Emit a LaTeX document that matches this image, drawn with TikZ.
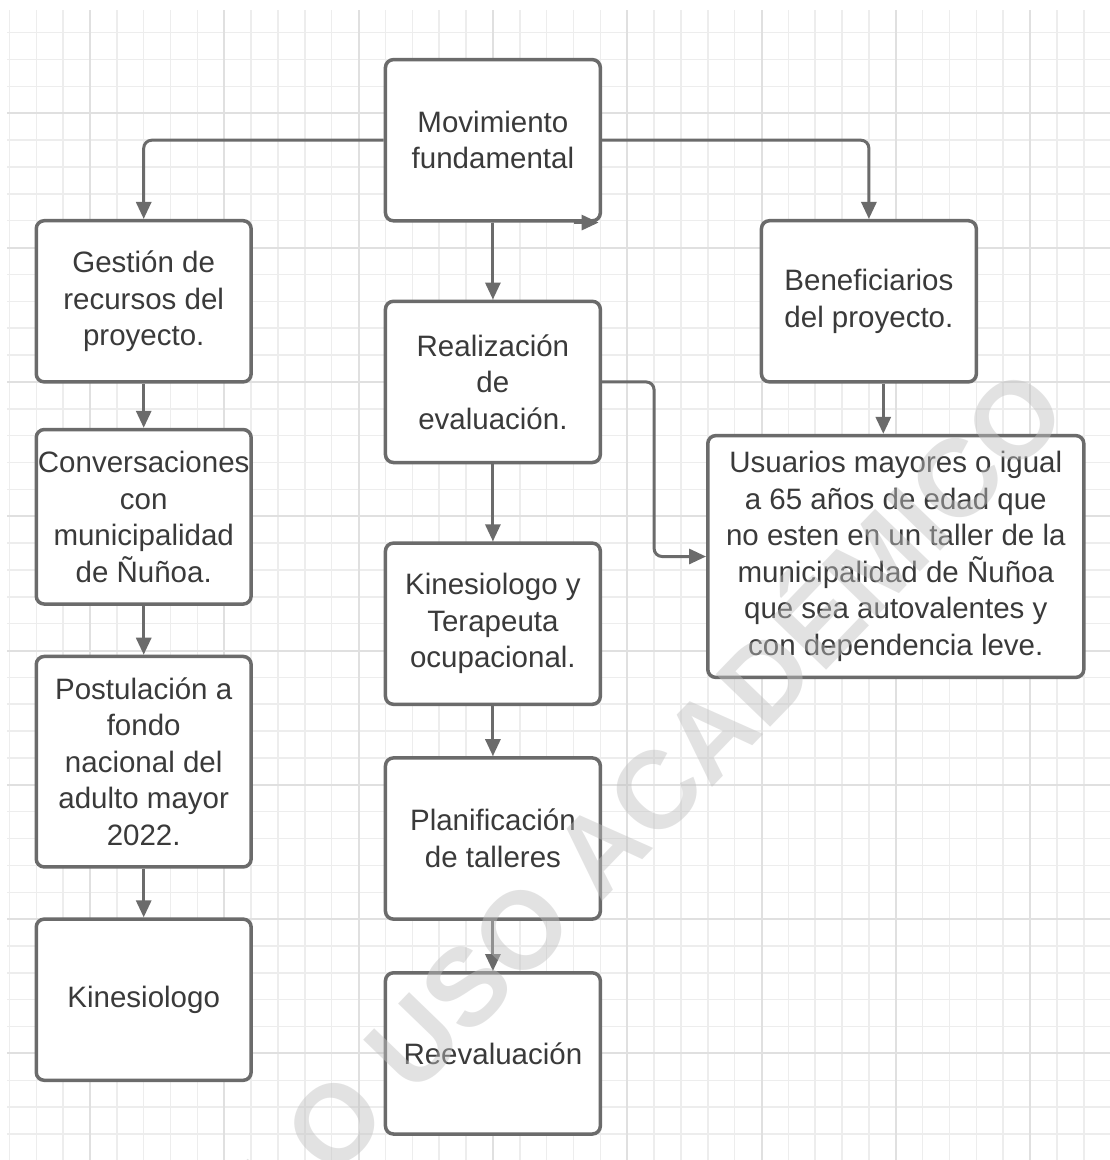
\documentclass[tikz,border=0pt]{standalone}
\usepackage{fontspec}
\setmainfont{Liberation Sans}
\usetikzlibrary{arrows.meta}
\definecolor{gridminor}{HTML}{EDEDED}
\definecolor{gridmajor}{HTML}{E0E0E0}
\definecolor{edgec}{HTML}{6B6B6B}
\definecolor{txtc}{HTML}{3A3A3A}
\definecolor{wmc}{HTML}{C0C0C0}
\tikzset{
  gridmin/.style={draw=gridminor, line width=1.5},
  gridmaj/.style={draw=gridmajor, line width=2},
  box/.style={draw=edgec, line width=3.5, rounded corners=8, fill=white, text=txtc,
    font=\fontsize{29.5}{36.5}\selectfont, align=center, inner sep=0,
    minimum width=214.9},
  conn/.style={draw=edgec, line width=3, rounded corners=8,
    -{Triangle[length=17,width=15]}},
}
\begin{document}
\begin{tikzpicture}[x=1pt,y=-1pt]
\useasboundingbox (0,0) rectangle (1110,1160);
\fill[white] (0,0) rectangle (1110,1160);
% grid
\foreach \i in {-3,...,37}{
  \pgfmathsetmacro\gx{90+26.86*\i}
  \draw[gridmin] (\gx,10) -- (\gx,1160);
}
\foreach \j in {-3,...,38}{
  \pgfmathsetmacro\gy{113.3+26.86*\j}
  \draw[gridmin] (7,\gy) -- (1110,\gy);
}
\foreach \i in {0,5,...,35}{
  \pgfmathsetmacro\gx{90+26.86*\i}
  \draw[gridmaj] (\gx,10) -- (\gx,1160);
}
\foreach \j in {0,5,...,35}{
  \pgfmathsetmacro\gy{113.3+26.86*\j}
  \draw[gridmaj] (7,\gy) -- (1110,\gy);
}
% boxes
\node[box, minimum height=161.2] (mov) at (492.9,140.2) {Movimiento\\fundamental};
\node[box, minimum height=161.2] (ges) at (143.7,301.3) {Gestión de\\recursos del\\proyecto.};
\node[box, minimum height=174.5] (conv) at (143.7,516.8) {Conversaciones\\con\\municipalidad\\de Ñuñoa.};
\node[box, minimum height=210.5] (post) at (143.7,761.7) {Postulación a\\fondo\\nacional del\\adulto mayor\\2022.};
\node[box, minimum height=161.2] (kin) at (143.7,999.7) {Kinesiologo};
\node[box, minimum height=161.2] (real) at (492.9,381.9) {Realización\\de\\evaluación.};
\node[box, minimum height=161.2] (kyt) at (492.9,623.7) {Kinesiologo y\\Terapeuta\\ocupacional.};
\node[box, minimum height=161.2] (plan) at (492.9,838.5) {Planificación\\de talleres};
\node[box, minimum height=161.2] (reev) at (492.9,1053.4) {Reevaluación};
\node[box, minimum height=161.2] (ben) at (868.9,301.3) {Beneficiarios\\del proyecto.};
\node[box, minimum width=376, minimum height=241.8] (usu) at (895.8,556.5) {Usuarios mayores o igual\\a 65 años de edad que\\no esten en un taller de la\\municipalidad de Ñuñoa\\que sea autovalentes y\\con dependencia leve.};
% connectors
\draw[conn] (mov.west) -| (ges.north);
\draw[conn] (mov.east) -| (ben.north);
\draw[conn] (mov.south) -- (real.north);
\draw[conn] ([xshift=-28]mov.south east) -- ([xshift=-3.5]mov.south east);
\draw[conn] (ges.south) -- (conv.north);
\draw[conn] (conv.south) -- (post.north);
\draw[conn] (post.south) -- (kin.north);
\draw[conn] (real.south) -- (kyt.north);
\draw[conn] (kyt.south) -- (plan.north);
\draw[conn] (plan.south) -- (reev.north);
\draw[conn] (real.east) -- ++(52,0) |- (usu.west);
\draw[conn] ([xshift=14.4]ben.south) -- ([xshift=14.4]ben.south |- usu.north);
% watermark
\node[rotate=46, text=wmc, opacity=0.45, inner sep=0,
  font=\bfseries\fontsize{110}{110}\selectfont] (wm) at (589,846) {SOLO USO ACADÉMICO};
\end{tikzpicture}
\end{document}
